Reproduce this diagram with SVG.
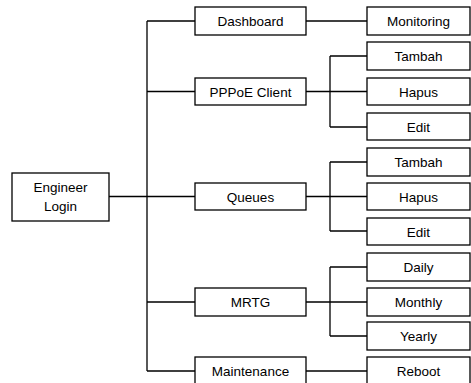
<svg xmlns="http://www.w3.org/2000/svg" width="471" height="383" viewBox="0 0 471 383">
<style>
rect{fill:#fff;stroke:#000;stroke-width:1.3}
text{font-family:"Liberation Sans",Arial,sans-serif;font-size:13.5px;fill:#000;text-anchor:middle}
#connectors path{fill:none;stroke:#000;stroke-width:1.3}
</style>
<rect x="0" y="0" width="471" height="383" style="stroke:none"/>
<g id="connectors">
<path d="M109,196.5H147M147,21V371M147,21H195M147,91.5H195M147,196.5H195M147,302H195M147,371H195"/>
<path d="M306,21H367"/>
<path d="M306,91.5H367M330,56V127M330,56H367M330,127H367"/>
<path d="M306,196.5H367M330,162V231M330,162H367M330,231H367"/>
<path d="M306,302H367M330,267V336M330,267H367M330,336H367"/>
<path d="M306,371H367"/>
</g>
<g id="engineer-login"><rect x="12" y="173" width="97" height="48"/><text x="60.5" y="192">Engineer</text><text x="60.5" y="210.5">Login</text></g>
<g id="dashboard"><rect x="195" y="7" width="111" height="28"/><text x="250.5" y="26">Dashboard</text></g>
<g id="pppoe-client"><rect x="195" y="78" width="111" height="27"/><text x="250.5" y="96.5">PPPoE Client</text></g>
<g id="queues"><rect x="195" y="183" width="111" height="27"/><text x="250.5" y="201.5">Queues</text></g>
<g id="mrtg"><rect x="195" y="288" width="111" height="28"/><text x="250.5" y="307">MRTG</text></g>
<g id="maintenance"><rect x="195" y="357" width="111" height="30"/><text x="250.5" y="376">Maintenance</text></g>
<g id="monitoring"><rect x="367" y="7" width="103" height="28"/><text x="418.5" y="26">Monitoring</text></g>
<g id="tambah-1"><rect x="367" y="42" width="103" height="28"/><text x="418.5" y="61">Tambah</text></g>
<g id="hapus-1"><rect x="367" y="78" width="103" height="27"/><text x="418.5" y="96.5">Hapus</text></g>
<g id="edit-1"><rect x="367" y="113" width="103" height="27"/><text x="418.5" y="131.5">Edit</text></g>
<g id="tambah-2"><rect x="367" y="148" width="103" height="28"/><text x="418.5" y="167">Tambah</text></g>
<g id="hapus-2"><rect x="367" y="183" width="103" height="27"/><text x="418.5" y="201.5">Hapus</text></g>
<g id="edit-2"><rect x="367" y="218" width="103" height="27"/><text x="418.5" y="236.5">Edit</text></g>
<g id="daily"><rect x="367" y="253" width="103" height="28"/><text x="418.5" y="272">Daily</text></g>
<g id="monthly"><rect x="367" y="288" width="103" height="28"/><text x="418.5" y="307">Monthly</text></g>
<g id="yearly"><rect x="367" y="322" width="103" height="28"/><text x="418.5" y="341">Yearly</text></g>
<g id="reboot"><rect x="367" y="357" width="103" height="30"/><text x="418.5" y="376">Reboot</text></g>
</svg>
